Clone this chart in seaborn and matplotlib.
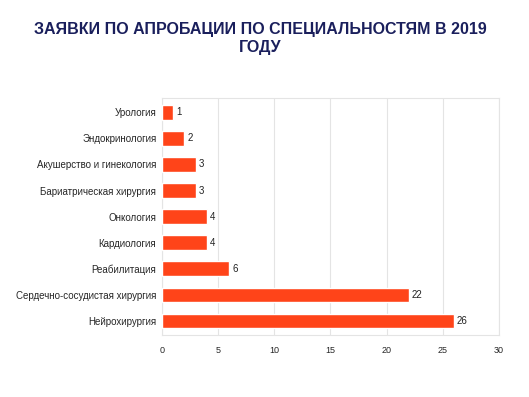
import matplotlib
matplotlib.use("Agg")
import matplotlib.pyplot as plt
import seaborn as sns
import pandas as pd

# данные с диаграммы
specialties = ["Урология", "Эндокринология", "Акушерство и гинекология",
               "Бариатрическая хирургия", "Онкология", "Кардиология",
               "Реабилитация", "Сердечно-сосудистая хирургия", "Нейрохирургия"]
counts = [1, 2, 3, 3, 4, 4, 6, 22, 26]
x_ticks = [0, 5, 10, 15, 20, 25, 30]

title = "ЗАЯВКИ ПО АПРОБАЦИИ ПО СПЕЦИАЛЬНОСТЯМ В 2019\nГОДУ"
bar_color = "#FF4419"

sns.set_theme(style="white")
plt.rcParams['font.family'] = ['Liberation Sans', 'DejaVu Sans']

df = pd.DataFrame({"spec": specialties, "n": counts})

fig = plt.figure(figsize=(5.29, 3.97), dpi=100)
ax = fig.add_axes([0.306, 0.156, 0.637, 0.597])

sns.barplot(data=df, x="n", y="spec", color=bar_color, saturation=1,
            width=0.55, ax=ax, zorder=3)

for i, v in enumerate(counts):
    ax.text(v + 0.25, i, str(v), va="center", ha="left", fontsize=7, color="#222222")

ax.set_xlim(0, 30)
ax.set_xticks(x_ticks)
ax.set_ylim(len(specialties) - 0.45, -0.55)
ax.set_xlabel("")
ax.set_ylabel("")
ax.tick_params(axis="x", labelsize=6.5, length=0, pad=8)
ax.tick_params(axis="y", labelsize=7, length=0, pad=4)
ax.grid(axis="x", color="#e4e4e4", linewidth=0.8, zorder=0)
for s in ax.spines.values():
    s.set_color("#e4e4e4")
    s.set_linewidth(0.8)

fig.text(0.492, 0.945, title, ha="center", va="top", fontsize=11.5,
         fontweight="bold", color="#1a1f5c", linespacing=1.25)

fig.savefig("out.png", dpi=100)
